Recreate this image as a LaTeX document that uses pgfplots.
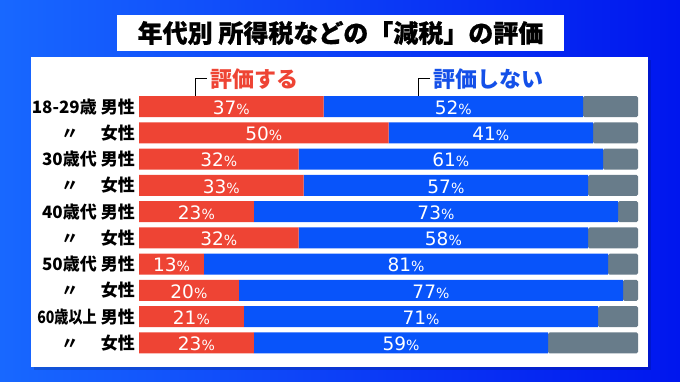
\documentclass[border=0pt]{standalone}
\usepackage{pgfplots}
\pgfplotsset{compat=1.18}
\usepackage{pgfplotstable}
\usepackage{graphicx}
\usepackage{fontspec}
\setmainfont{Noto Sans CJK JP}
\newfontfamily\tfont{Noto Sans CJK JP}[BoldFeatures={FakeBold=0.6}]
\newfontfamily\numfont{DejaVu Sans}
\definecolor{cred}{RGB}{238,68,52}
\definecolor{cblue}{RGB}{8,84,250}
\definecolor{cgray}{RGB}{104,124,138}
\definecolor{lblue}{RGB}{20,80,232}
\definecolor{bgL}{RGB}{24,104,255}
\definecolor{bgR}{RGB}{0,22,238}
\pgfplotstableread{
row r b g
1 37 52 11
2 50 41 9
3 32 61 7
4 33 57 10
5 23 73 4
6 32 58 10
7 13 81 6
8 20 77 3
9 21 71 8
10 23 59 18
}\data
\newcommand{\rl}[2]{\makebox[62pt][r]{#1}\hspace{4pt}#2}
\newcommand{\dl}{\makebox[62pt][c]{\hspace{8pt}〃}\hspace{4pt}女性}
\begin{document}
\begin{tikzpicture}[x=1pt,y=1pt]
\useasboundingbox (0,0) rectangle (680,382);
\shade[left color=bgL, right color=bgR] (0,0) rectangle (680,382);
\fill[black,opacity=0.15] (34,12) rectangle (651,322);
\fill[white] (31,15) rectangle (648,325);
\fill[white] (117,331) rectangle (564,367);
\node[font=\tfont\fontsize{25}{25}\selectfont\bfseries] at (340.5,349) {年代別 所得税などの「減税」の評価};
\draw[black, line width=0.8pt] (195,283) -- (195,304) -- (207,304);
\node[anchor=west, text=cred, font=\fontsize{22}{22}\selectfont\bfseries, inner sep=0pt] at (210,303) {評価する};
\draw[black, line width=0.8pt] (418,283) -- (418,304) -- (430,304);
\node[anchor=west, text=lblue, font=\fontsize{22}{22}\selectfont\bfseries, inner sep=0pt] at (433,303) {評価しない};
\begin{axis}[at={(388.5pt,157.2pt)}, anchor=center, scale only axis,
  width=499pt, height=262.6pt, xmin=0, xmax=100, ymin=0.5, ymax=10.5,
  y dir=reverse, xbar stacked, bar width=21pt, axis line style={draw=none},
  xtick=\empty, ytick={1,...,10}, major tick length=0pt, clip=false,
  yticklabel style={font=\fontsize{17}{17}\selectfont\bfseries, inner sep=0pt, xshift=-4pt},
  yticklabels={{\rl{18-29歳}{男性}},{\dl},{\rl{30歳代}{男性}},{\dl},{\rl{40歳代}{男性}},{\dl},{\rl{50歳代}{男性}},{\dl},{\rl{\scalebox{0.83}[1]{60歳以上}}{男性}},{\dl}}]
\addplot[fill=cred, draw=none] table[x=r, y=row] {\data};
\addplot[fill=cblue, draw=none] table[x=b, y=row] {\data};
\addplot[fill=cgray, draw=none, rounded corners=1.5pt] table[x=g, y=row] {\data};
\end{axis}
\begin{axis}[at={(388.5pt,157.2pt)}, anchor=center, scale only axis,
  width=499pt, height=262.6pt, xmin=0, xmax=100, ymin=0.5, ymax=10.5,
  y dir=reverse, hide axis, clip=false,
  nodes near coords={\pgfplotspointmeta{\fontsize{14}{14}\selectfont\%}},
  nodes near coords align={center},
  every node near coord/.append style={anchor=center, text=white, font=\numfont\fontsize{18.5}{18.5}\selectfont, inner sep=0pt, yshift=-1pt}]
\addplot[only marks, mark=*, mark size=0pt, draw=none, fill=none, point meta=explicit symbolic] table[x expr=\thisrow{r}/2, y=row, meta=r] {\data};
\addplot[only marks, mark=*, mark size=0pt, draw=none, fill=none, point meta=explicit symbolic] table[x expr=\thisrow{r}+\thisrow{b}/2, y=row, meta=b] {\data};
\end{axis}
\end{tikzpicture}
\end{document}
